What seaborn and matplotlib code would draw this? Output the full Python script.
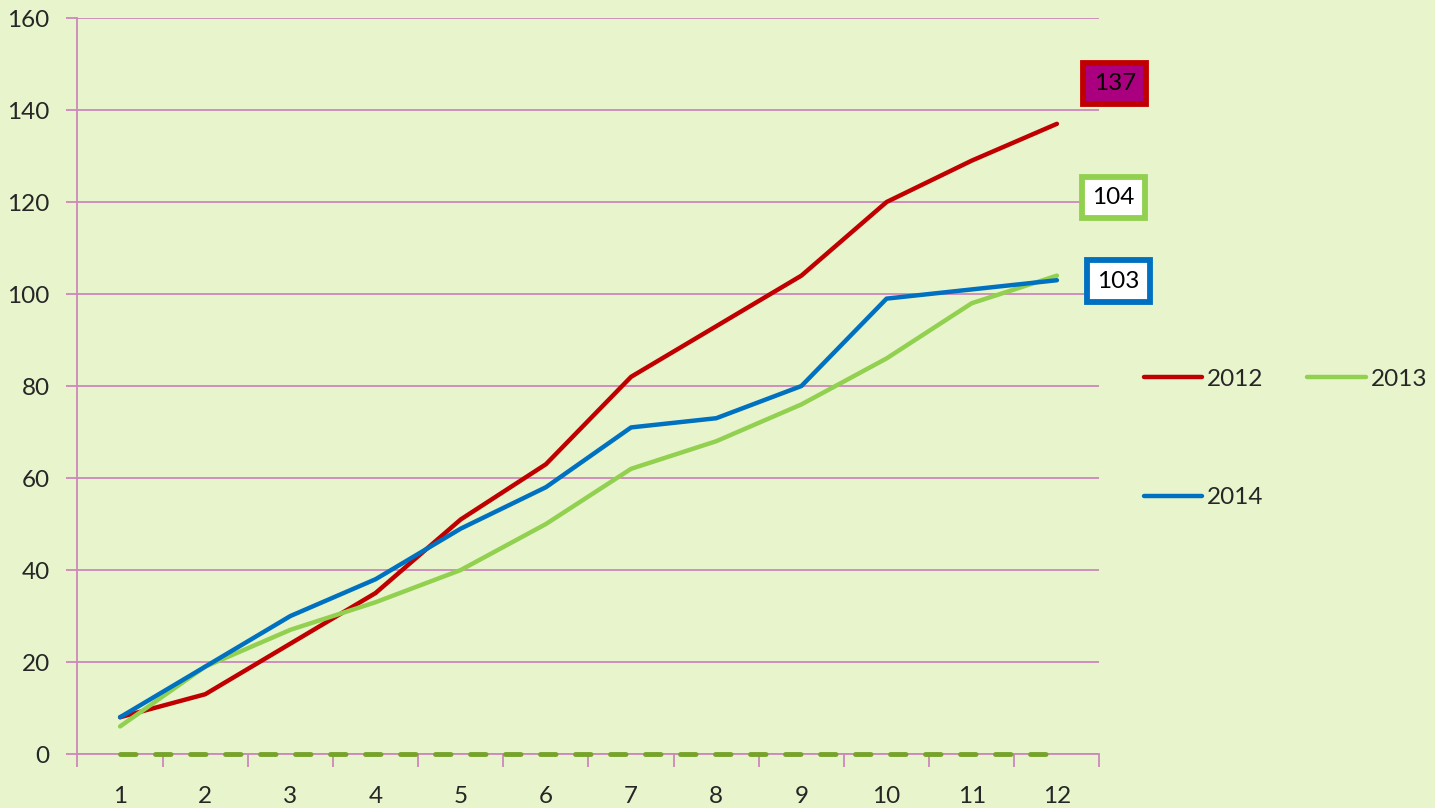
import matplotlib
matplotlib.use("Agg")
import matplotlib.pyplot as plt
import pandas as pd
import seaborn as sns

months = list(range(1, 13))
years = ["2012", "2013", "2014"]
values_2012 = [8, 13, 24, 35, 51, 63, 82, 93, 104, 120, 129, 137]
values_2013 = [6, 19, 27, 33, 40, 50, 62, 68, 76, 86, 98, 104]
values_2014 = [8, 19, 30, 38, 49, 58, 71, 73, 80, 99, 101, 103]
values_zero = [0] * 12

colors = {"2012": "#C00000", "2013": "#92D050", "2014": "#0070C0"}
bg = "#E8F5CC"
grid_color = "#CC88BB"
fs = 17.5

df = pd.DataFrame({
    "month": months * 3,
    "value": values_2012 + values_2013 + values_2014,
    "year": ["2012"] * 12 + ["2013"] * 12 + ["2014"] * 12,
})

sns.set_style("white")
plt.rcParams["font.family"] = ["Lato", "DejaVu Sans"]

fig = plt.figure(figsize=(14.35, 8.08), dpi=100)
fig.patch.set_facecolor(bg)
ax = fig.add_axes([0.054, 0.0668, 0.7122, 0.9109])
ax.set_facecolor(bg)

# dashed zero series, no legend entry
sns.lineplot(x=months, y=values_zero, ax=ax, color="#77A32A", linewidth=3.5,
             linestyle=(0, (3.2, 4.0)), dash_capstyle="round",
             legend=False, zorder=4, clip_on=False)

sns.lineplot(data=df, x="month", y="value", hue="year", hue_order=years,
             palette=colors, linewidth=3.2, ax=ax, zorder=3)
for ln in ax.lines[1:]:
    ln.set_solid_capstyle("round")

ax.set_xlim(0.5, 12.5)
ax.set_ylim(0, 160)
ax.set_xticks(months)
ax.set_xticks([m + 0.5 for m in range(0, 13)], minor=True)
ax.set_yticks(range(0, 161, 20))
ax.tick_params(axis="x", which="major", length=0, pad=23, labelsize=fs)
ax.tick_params(axis="x", which="minor", length=9, width=1.3, color=grid_color,
               direction="out", bottom=True)
ax.tick_params(axis="y", length=8, width=1.3, color=grid_color, pad=12,
               labelsize=fs, left=True)
ax.yaxis.grid(True, color=grid_color, linewidth=1.3)
ax.set_axisbelow(True)
for s in ["top", "right"]:
    ax.spines[s].set_visible(False)
for s in ["left", "bottom"]:
    ax.spines[s].set_color(grid_color)
    ax.spines[s].set_linewidth(1.3)
ax.set_xlabel("")
ax.set_ylabel("")

# end-value labels
label_specs = [
    (values_2012[-1], 12.68, 145.8, "#AA0080", colors["2012"]),
    (values_2013[-1], 12.66, 121, "white", colors["2013"]),
    (values_2014[-1], 12.72, 102.8, "white", colors["2014"]),
]
for val, xp, yp, fc, ec in label_specs:
    ax.text(xp, yp, str(val), ha="center", va="center", fontsize=fs,
            color="black", clip_on=False,
            bbox=dict(boxstyle="square,pad=0.42", fc=fc, ec=ec, lw=4.2))

handles, labels = ax.get_legend_handles_labels()
order = [labels.index(y) for y in ["2012", "2014", "2013"]]
leg = ax.legend([handles[i] for i in order], [labels[i] for i in order],
                loc="upper left", bbox_to_anchor=(1.022, 0.553), ncol=2,
                frameon=False, fontsize=fs, handlelength=2.4,
                handletextpad=0.2, columnspacing=1.8, labelspacing=4.0)
for h in leg.get_lines():
    h.set_linewidth(3.2)
    h.set_solid_capstyle("round")

fig.savefig("out.png", dpi=100, facecolor=bg)
